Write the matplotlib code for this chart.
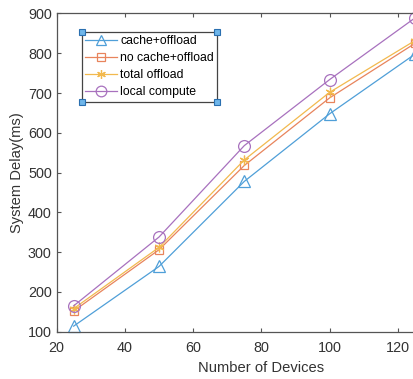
import numpy as np
import matplotlib
matplotlib.use('Agg')
from matplotlib import pyplot as plt

plt.rcParams['font.family'] = ['Liberation Sans', 'DejaVu Sans']

# data
devices = [25, 50, 75, 100, 125]
cache_offload = [114, 264, 478, 648, 798]
nocache_offload = [152, 306, 518, 688, 825]
total_offload = [158, 312, 532, 702, 832]
local_compute = [165, 338, 568, 734, 889]

labels = ['cache+offload', 'no cache+offload', 'total offload', 'local compute']
colors = ['#4f9fd8', '#e8845c', '#f2b94e', '#a871be']
asterisk = (6, 2, 0)
markers = ['^', 's', asterisk, 'o']
msizes = [8, 6, 7, 8.5]

axis_col = '#555555'
text_col = '#333333'

fig = plt.figure(figsize=(4.13, 3.79), dpi=100)
ax = fig.add_axes([0.137, 0.1248, 0.992, 0.8396])

series = [cache_offload, nocache_offload, total_offload, local_compute]
for ys, lab, c, m, ms in zip(series, labels, colors, markers, msizes):
	ax.plot(devices, ys, color=c, lw=0.9, marker=m, ms=ms, mfc='none', mec=c,
		mew=0.9, label=lab, clip_on=False)

ax.set_xlim(20, 140)
ax.set_ylim(100, 900)
ax.set_xticks([20, 40, 60, 80, 100, 120])
ax.set_yticks(np.arange(100, 901, 100))
ax.tick_params(direction='in', top=True, right=True, length=3, width=0.8,
	colors=axis_col, labelcolor=text_col, labelsize=10.4)
ax.tick_params(axis='x', pad=7)
for s in ax.spines.values():
	s.set_color(axis_col)
	s.set_linewidth(0.9)

ax.set_xlabel('Number of Devices', fontsize=10.6, color=text_col, labelpad=4)
ax.set_ylabel('System Delay(ms)', fontsize=10.6, color=text_col, labelpad=3)

leg = ax.legend(loc='upper left', bbox_to_anchor=(0.061, 0.943), borderaxespad=0,
	fontsize=8.8, fancybox=False, framealpha=1, edgecolor='#444444',
	handlelength=2.6, handletextpad=0.25, labelspacing=0.4, borderpad=0.3,
	markerscale=0.9)
leg.get_frame().set_linewidth(0.9)

# selection handles on legend corners
fig.canvas.draw()
bb = leg.get_window_extent().transformed(fig.transFigure.inverted())
cx = [bb.x0, bb.x1, bb.x0, bb.x1]
cy = [bb.y0, bb.y0, bb.y1, bb.y1]
fig.add_artist(plt.Line2D(cx, cy, transform=fig.transFigure, ls='none', marker='s',
	ms=5, mfc='#6fb6ea', mec='#2a6fb0', mew=0.8))

fig.savefig('out.png', dpi=100)
